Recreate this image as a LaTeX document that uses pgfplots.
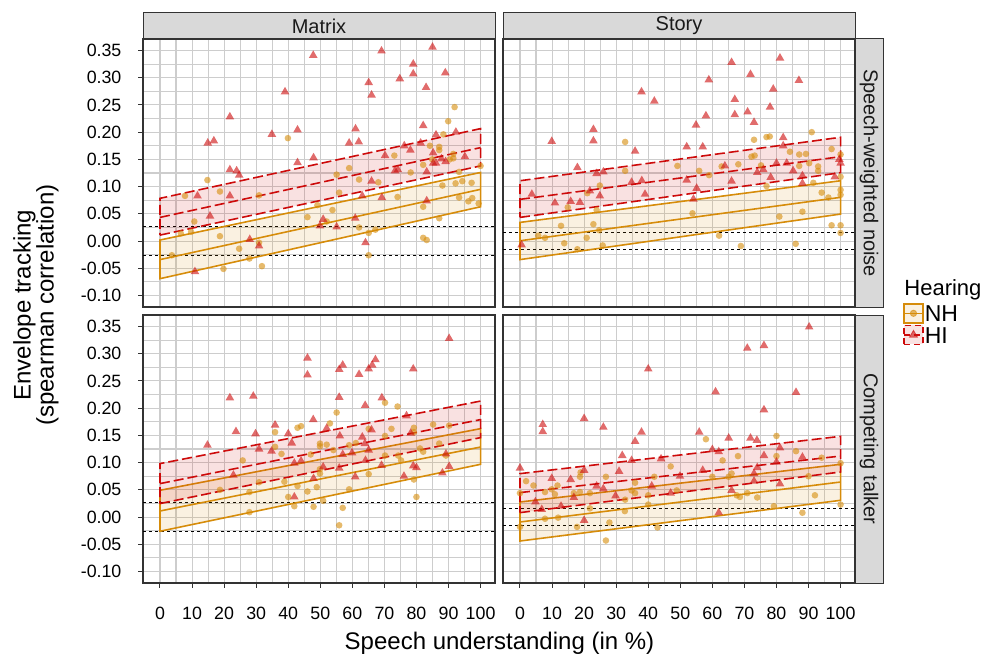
\documentclass[border=0pt]{standalone}
\usepackage{fontspec}
\setmainfont{Liberation Sans}
\usepackage{pgfplots}
\pgfplotsset{compat=1.18}
\definecolor{nh}{RGB}{214,140,10}
\definecolor{hi}{RGB}{205,10,10}
\definecolor{gridc}{RGB}{205,205,205}
\definecolor{frame}{RGB}{51,51,51}
\definecolor{stripf}{RGB}{217,217,217}
\definecolor{striptext}{RGB}{26,26,26}
\newcommand\tickfont{\fontsize{8.9}{10}\selectfont}
\pgfplotsset{
 panel/.style={
  scale only axis, width=176pt, height=134pt,
  xmin=-5.3, xmax=104.5, ymin=-0.121, ymax=0.371,
  xtick={0,10,20,30,40,50,60,70,80,90,100},
  minor xtick={5,15,25,35,45,55,65,75,85,95},
  ytick={-0.1,-0.05,0,0.05,0.1,0.15,0.2,0.25,0.3,0.35},
  minor ytick={-0.075,-0.025,0.025,0.075,0.125,0.175,0.225,0.275,0.325},
  grid=both,
  major grid style={gridc, line width=0.55pt},
  minor grid style={gridc, line width=0.55pt},
  axis line style={frame, line width=0.6pt},
  tick align=outside, major tick length=2.3pt, minor tick length=0pt,
  tick style={frame, line width=0.5pt},
  xticklabel style={font=\tickfont, anchor=north, inner sep=0pt, yshift=-9.5pt},
  yticklabel style={font=\tickfont, anchor=east, inner sep=0pt, xshift=-8.3pt},
 },
 xlab/.style={xtick pos=left, xticklabels={0,10,20,30,40,50,60,70,80,90,100}},
 noxlab/.style={xtick pos=right, xticklabels={}},
 ylab/.style={ytick pos=left, yticklabels={-0.10,-0.05,0.00,0.05,0.10,0.15,0.20,0.25,0.30,0.35}},
 noylab/.style={ytick pos=right, yticklabels={}},
 nhpt/.style={color=nh, only marks, mark=*, mark size=1.65pt, mark options={fill=nh, draw=nh, fill opacity=0.6, draw opacity=0}},
 hipt/.style={color=hi, only marks, mark=triangle*, mark size=2.5pt, mark options={fill=hi, draw=hi, fill opacity=0.6, draw opacity=0}},
 nhband/.style={draw=nh, line width=0.8pt, fill=nh, fill opacity=0.12, draw opacity=1},
 hiband/.style={draw=hi, line width=0.8pt, dash pattern=on 5pt off 2pt, fill=hi, fill opacity=0.12, draw opacity=1},
 nhline/.style={nh, line width=0.8pt},
 hiline/.style={hi, line width=0.8pt, dash pattern=on 5pt off 2pt},
 thr/.style={black, line width=0.45pt, dash pattern=on 1.5pt off 1.5pt},
}
\begin{document}
\begin{tikzpicture}
\useasboundingbox (0pt,0pt) rectangle (493pt,327.5pt);

% ---------------- Matrix / Speech-weighted noise
\begin{axis}[panel, noxlab, ylab, at={(71.5pt,174pt)}, anchor=south west]
\addplot[thr] coordinates {(-5.3,0.027) (104.5,0.027)};
\addplot[thr] coordinates {(-5.3,-0.027) (104.5,-0.027)};
\addplot[nhpt] table {
x y
91.9 0.246
89.9 0.220
39.9 0.189
88.4 0.196
84.2 0.175
87.1 0.173
87.1 0.167
91.5 0.160
90.4 0.150
73.1 0.157
82.1 0.140
59.0 0.134
55.1 0.122
62.1 0.113
68.1 0.108
78.2 0.126
84.9 0.150
100.0 0.138
93.3 0.127
88.1 0.102
92.2 0.106
94.3 0.110
97.2 0.107
14.8 0.112
18.7 0.091
7.8 0.083
30.9 0.084
55.9 0.089
74.1 0.081
49.1 0.066
53.8 0.057
46.0 0.044
52.0 0.036
10.7 0.036
6.5 0.014
9.7 0.017
18.7 0.009
62.1 0.025
65.1 0.015
67.2 0.021
82.1 0.063
87.1 0.042
93.3 0.080
96.2 0.073
97.4 0.079
99.4 0.069
82.1 0.006
83.2 0.002
3.7 -0.026
24.7 -0.014
27.9 -0.032
30.9 -0.003
19.8 -0.051
31.8 -0.046
65.1 -0.026
91.5 0.152
};
\addplot[hipt] table {
x y
47.8 0.341
69.1 0.349
85.0 0.356
79.0 0.325
79.0 0.307
89.0 0.309
74.8 0.298
65.1 0.291
66.0 0.268
83.0 0.282
39.0 0.274
21.8 0.228
14.9 0.180
16.8 0.184
34.9 0.196
42.9 0.204
61.0 0.206
59.0 0.180
62.0 0.182
82.1 0.212
86.1 0.195
92.3 0.200
76.2 0.175
78.1 0.167
81.3 0.180
85.2 0.162
85.2 0.143
86.1 0.143
87.8 0.151
89.1 0.146
95.1 0.155
70.2 0.157
47.9 0.153
42.9 0.144
21.8 0.131
23.9 0.129
24.7 0.121
66.0 0.110
73.3 0.129
83.2 0.127
11.7 0.083
21.8 0.083
63.1 0.083
69.2 0.080
15.6 0.046
50.9 0.040
49.9 0.028
55.1 0.026
60.9 0.042
28.0 0.003
30.9 -0.009
64.1 -0.003
10.9 -0.056
83.2 0.074
74.2 0.131
};
\addplot[nhband] coordinates {(0,-0.069) (100,0.063) (100,0.126) (0,0.002)} -- cycle;
\addplot[nhline] coordinates {(0,-0.034) (100,0.095)};
\addplot[hiband] coordinates {(0,0.011) (100,0.138) (100,0.2065) (0,0.0785)} -- cycle;
\addplot[hiline] coordinates {(0,0.0435) (100,0.1716)};
\end{axis}

% ---------------- Story / Speech-weighted noise
\begin{axis}[panel, noxlab, noylab, at={(251.5pt,174pt)}, anchor=south west,
  legend style={at={(1.136,0.016)}, anchor=north west, draw=none, fill=none,
   inner sep=0pt, font=\fontsize{11.5}{12}\selectfont, row sep=0.6pt,
   nodes={inner sep=0.6pt, text height=8.4pt, text depth=0pt}},
  legend cell align=left]
\addlegendimage{legend image code/.code={
  \draw[draw=nh, fill=nh!12, line width=0.7pt] (0pt,-4.75pt) rectangle (9.5pt,4.75pt);
  \draw[nh, line width=0.7pt] (0pt,0pt) -- (9.5pt,0pt);
  \fill[nh, opacity=0.6] (4.75pt,0pt) circle (1.6pt);}}
\addlegendentry{NH}
\addlegendimage{legend image code/.code={
  \draw[draw=hi, fill=hi!12, line width=0.7pt, dash pattern=on 3pt off 2pt] (0pt,-4.75pt) rectangle (9.5pt,4.75pt);
  \draw[hi, line width=0.7pt, dash pattern=on 3pt off 2pt] (0pt,0pt) -- (9.5pt,0pt);
  \fill[hi, opacity=0.6] (4.75pt,2.3pt) -- (6.75pt,-1.15pt) -- (2.75pt,-1.15pt) -- cycle;}}
\addlegendentry{HI}
\addplot[thr] coordinates {(-5.3,0.015) (104.5,0.015)};
\addplot[thr] coordinates {(-5.3,-0.015) (104.5,-0.015)};
\addplot[nhpt] table {
x y
91.0 0.200
73.0 0.186
76.9 0.191
77.9 0.192
32.8 0.182
97.2 0.169
84.2 0.164
87.1 0.159
89.2 0.160
100 0.159
72.2 0.155
73.2 0.157
90.2 0.143
87.1 0.138
93.0 0.137
93.0 0.129
49.1 0.138
62.9 0.137
68.1 0.141
75.2 0.139
55.9 0.129
59.0 0.121
32.8 0.129
100 0.118
100 0.094
100 0.085
94.1 0.089
96.2 0.080
91.5 0.107
76.9 0.101
24.9 0.102
21.0 0.088
14.9 0.062
23.9 0.057
53.8 0.051
80.9 0.045
88.1 0.054
12.8 0.028
22.9 0.031
24.7 0.020
5.7 0.010
7.8 0.006
20.8 0.006
13.8 -0.004
17.9 -0.015
25.8 -0.008
62.1 0.010
68.9 -0.009
86.0 -0.005
97.2 0.029
100 0.029
100 0.015
};
\addplot[hipt] table {
x y
66.0 0.328
81.1 0.336
71.9 0.306
58.9 0.296
87.0 0.295
79.0 0.279
37.9 0.274
41.9 0.257
67.0 0.260
78.0 0.246
67.0 0.232
71.0 0.237
58.0 0.230
73.0 0.218
54.9 0.213
22.9 0.205
22.9 0.184
9.9 0.183
52.0 0.173
57.0 0.173
35.9 0.165
82.1 0.190
82.1 0.175
17.9 0.135
23.9 0.124
52.0 0.112
55.1 0.097
38.0 0.111
34.8 0.108
39.0 0.086
24.9 0.083
21.8 0.092
3.7 0.086
10.9 0.070
15.8 0.073
18.7 0.071
54.1 0.077
63.9 0.138
74.0 0.126
75.9 0.131
78.2 0.117
80.0 0.143
83.2 0.143
85.2 0.129
88.1 0.120
66.0 0.110
99.6 0.150
100 0.143
98.2 0.118
88.1 0.106
0.5 -0.007
26.0 0.127
};
\addplot[nhband] coordinates {(0,-0.034) (100,0.0496) (100,0.1108) (0,0.0343)} -- cycle;
\addplot[nhline] coordinates {(0,0.0006) (100,0.0803)};
\addplot[hiband] coordinates {(0,0.0435) (100,0.1256) (100,0.1906) (0,0.1108)} -- cycle;
\addplot[hiline] coordinates {(0,0.0766) (100,0.155)};
\end{axis}

% ---------------- Matrix / Competing talker
\begin{axis}[panel, xlab, ylab, at={(71.5pt,36pt)}, anchor=south west]
\addplot[thr] coordinates {(-5.3,0.027) (104.5,0.027)};
\addplot[thr] coordinates {(-5.3,-0.027) (104.5,-0.027)};
\addplot[nhpt] table {
x y
70.2 0.210
74.1 0.203
55.1 0.192
53.0 0.172
44.0 0.167
42.9 0.164
35.9 0.156
49.9 0.135
52.0 0.133
49.9 0.130
54.1 0.123
59.0 0.132
61.1 0.136
47.0 0.115
37.9 0.116
35.9 0.129
25.8 0.104
30.9 0.064
18.7 0.050
27.9 0.046
27.9 0.009
38.8 0.065
42.9 0.057
46.0 0.047
48.9 0.055
49.9 0.088
49.9 0.080
40.0 0.037
41.9 0.020
47.9 0.019
50.9 0.030
57.0 0.017
55.9 -0.015
59.0 0.051
65.1 0.079
70.2 0.149
72.2 0.162
65.1 0.162
74.3 0.113
75.2 0.104
70.2 0.113
79.2 0.164
79.2 0.156
82.1 0.120
81.1 0.126
85.2 0.170
87.1 0.135
89.2 0.113
90.2 0.168
79.2 0.069
80.0 0.037
};
\addplot[hipt] table {
x y
90.2 0.328
46.0 0.292
46.0 0.261
57.0 0.279
55.9 0.271
66.2 0.279
67.2 0.289
65.1 0.272
62.1 0.262
79.0 0.272
21.8 0.219
29.1 0.222
55.9 0.220
69.2 0.219
64.0 0.205
47.8 0.179
76.9 0.186
23.7 0.157
29.8 0.153
35.9 0.169
52.0 0.163
40.0 0.153
56.1 0.149
66.0 0.160
63.1 0.147
78.2 0.154
14.8 0.132
30.9 0.125
34.8 0.121
41.1 0.136
63.9 0.135
65.1 0.123
59.9 0.118
57.0 0.115
44.0 0.103
41.9 0.099
64.1 0.104
69.1 0.095
55.9 0.090
50.9 0.092
79.0 0.094
80.0 0.091
89.2 0.116
90.2 0.093
88.1 0.081
76.1 0.075
60.9 0.074
47.9 0.071
22.9 0.077
41.9 0.037
};
\addplot[nhband] coordinates {(0,-0.026) (100,0.0969) (100,0.1624) (0,0.0492)} -- cycle;
\addplot[nhline] coordinates {(0,0.0112) (100,0.1286)};
\addplot[hiband] coordinates {(0,0.0248) (100,0.1459) (100,0.213) (0,0.0982)} -- cycle;
\addplot[hiline] coordinates {(0,0.0615) (100,0.179)};
\end{axis}

% ---------------- Story / Competing talker
\begin{axis}[panel, xlab, noylab, at={(251.5pt,36pt)}, anchor=south west]
\addplot[thr] coordinates {(-5.3,0.015) (104.5,0.015)};
\addplot[thr] coordinates {(-5.3,-0.015) (104.5,-0.015)};
\addplot[nhpt] table {
x y
58.0 0.143
80.0 0.149
86.1 0.121
94.1 0.109
80.0 0.112
68.0 0.112
63.2 0.104
47.0 0.093
41.9 0.074
26.8 0.074
18.7 0.074
1.9 0.066
4.2 0.058
11.7 0.058
9.9 0.051
18.7 0.046
16.8 0.044
0.0 0.044
7.8 0.046
10.9 0.042
21.8 0.044
35.9 0.063
35.9 0.044
34.8 0.049
40.0 0.040
32.8 0.032
48.9 0.049
60.0 0.074
65.1 0.074
66.0 0.080
67.6 0.040
68.6 0.037
70.9 0.044
74.0 0.036
90.0 0.075
92.0 0.040
100 0.099
100 0.023
79.2 0.020
88.1 0.008
40.0 0.023
21.8 0.016
32.7 0.011
11.9 -0.001
7.8 -0.003
17.8 -0.018
27.9 -0.010
42.9 -0.019
26.8 -0.043
0.0 -0.018
18.9 0.082
};
\addplot[hipt] table {
x y
90.2 0.349
70.9 0.310
76.1 0.315
40.0 0.272
61.0 0.230
86.1 0.229
76.1 0.197
7.1 0.170
7.1 0.157
20.0 0.181
26.0 0.165
37.9 0.156
35.9 0.139
55.9 0.156
65.1 0.145
71.9 0.145
73.9 0.141
60.0 0.124
62.0 0.120
31.9 0.113
34.8 0.104
44.0 0.107
76.1 0.113
81.1 0.127
80.0 0.101
88.1 0.110
0.0 0.090
9.9 0.071
15.8 0.069
20.0 0.086
23.9 0.057
26.0 0.052
30.9 0.084
29.8 0.039
41.1 0.057
49.9 0.075
47.0 0.044
57.0 0.086
66.0 0.049
73.0 0.080
73.0 0.066
74.0 0.091
81.1 0.061
4.8 0.028
6.8 0.014
12.8 0.020
20.0 -0.006
62.0 0.008
16.8 0.036
};
\addplot[nhband] coordinates {(0,-0.0439) (100,0.0308) (100,0.0969) (0,0.0277)} -- cycle;
\addplot[nhline] coordinates {(0,-0.009) (100,0.0644)};
\addplot[hiband] coordinates {(0,0.0082) (100,0.0828) (100,0.1483) (0,0.0798)} -- cycle;
\addplot[hiline] coordinates {(0,0.045) (100,0.1121)};
\end{axis}

% ---------------- strips
\begin{scope}[every node/.style={text=striptext, font=\fontsize{10}{12}\selectfont}]
\draw[frame, fill=stripf, line width=0.5pt] (71.5pt,308pt) rectangle (247.5pt,321pt);
\node at (159.5pt,314.5pt) {Matrix};
\draw[frame, fill=stripf, line width=0.5pt] (251.5pt,308pt) rectangle (427.5pt,321pt);
\node at (339.5pt,314.5pt) {Story};
\draw[frame, fill=stripf, line width=0.5pt] (427.5pt,174pt) rectangle (441.5pt,308pt);
\node[rotate=-90] at (434.5pt,241pt) {Speech-weighted noise};
\draw[frame, fill=stripf, line width=0.5pt] (427.5pt,36pt) rectangle (441.5pt,170pt);
\node[rotate=-90] at (434.5pt,103pt) {Competing talker};
\end{scope}

% ---------------- titles
\node[anchor=base, font=\fontsize{12}{14}\selectfont] at (249.75pt,3pt) {Speech understanding (in \%)};
\node[rotate=90, align=center, font=\fontsize{12}{11.5}\selectfont] at (18pt,175pt) {Envelope tracking\\(spearman correlation)};
\node[anchor=base west, inner sep=0pt, font=\fontsize{11}{12}\selectfont] at (452pt,180pt) {Hearing};
\end{tikzpicture}
\end{document}
